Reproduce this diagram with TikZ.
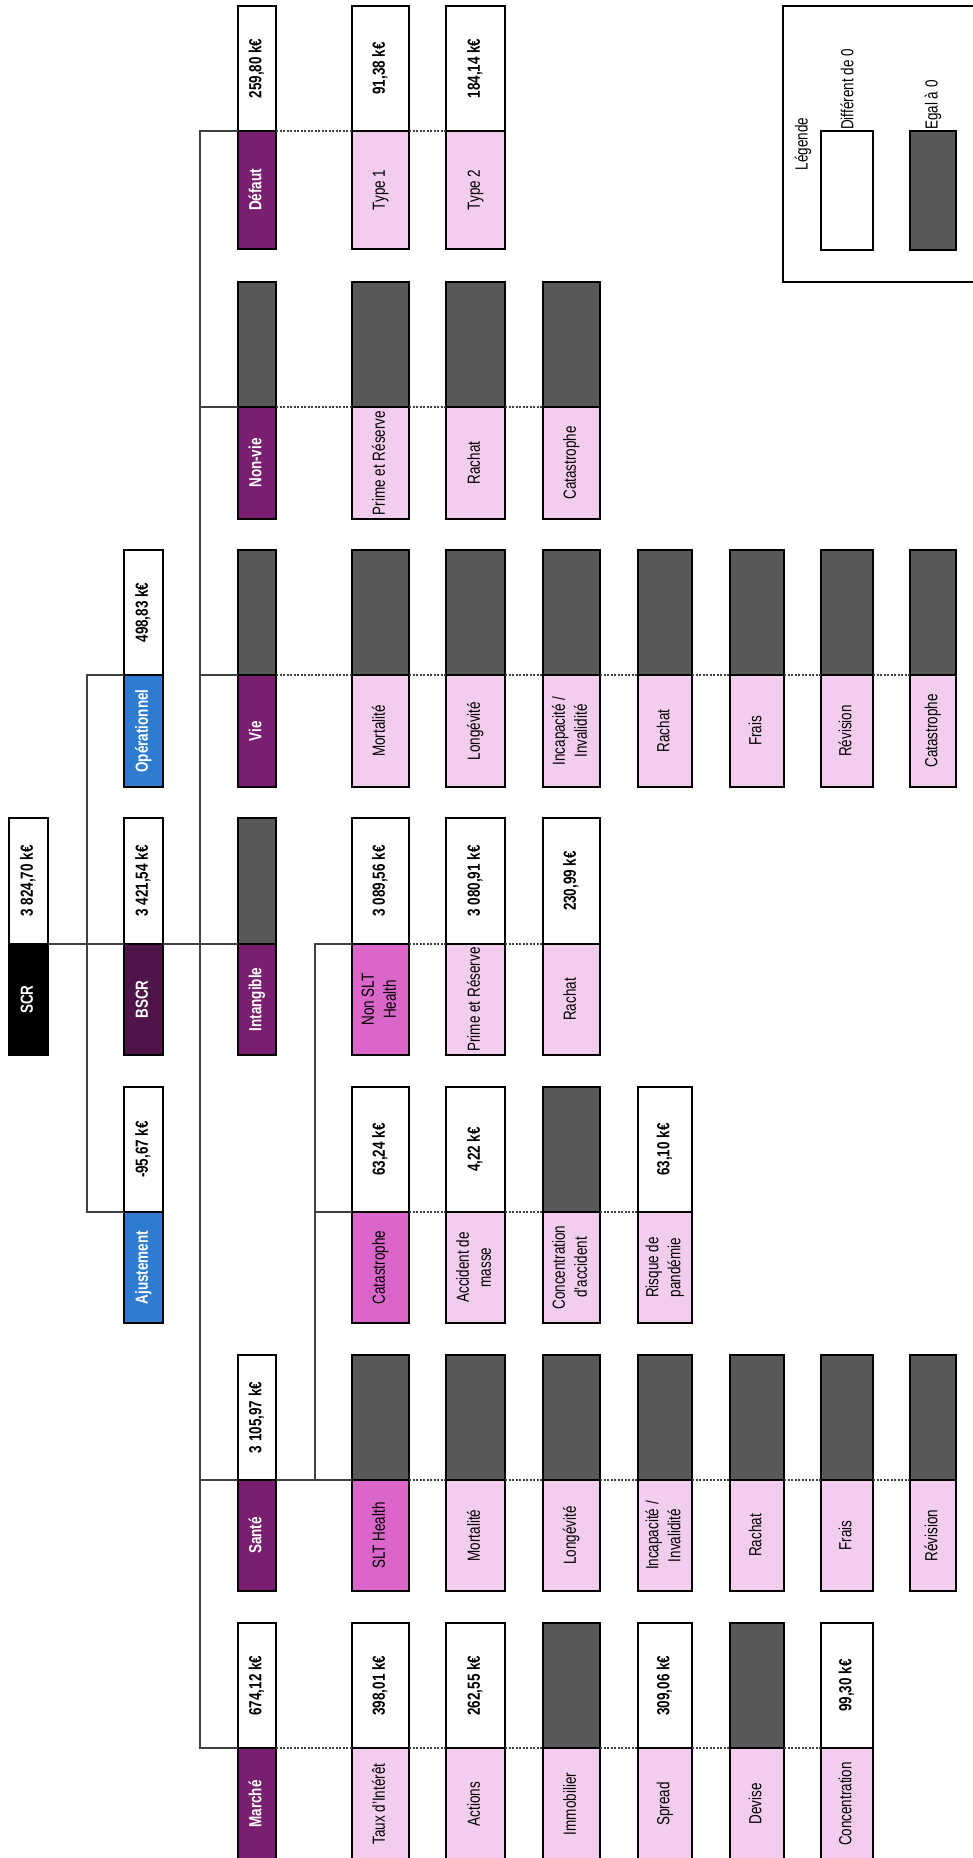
\documentclass[tikz,border=0pt]{standalone}
\usepackage{fontspec}
\setmainfont{Liberation Sans}[FakeStretch=0.77]
\usepackage{graphicx}
\definecolor{cPurple}{HTML}{7A1F6F}
\definecolor{cBscr}{HTML}{4F154A}
\definecolor{cBlue}{HTML}{2E7BD0}
\definecolor{cMag}{HTML}{D966C8}
\definecolor{cPink}{HTML}{F2CDEE}
\definecolor{cZero}{HTML}{595959}
\definecolor{cLine}{HTML}{404040}
\newcommand\rt[1]{\rotatebox{90}{\begin{tabular}{@{}c@{}}#1\end{tabular}}}
\newcommand\bx[7]{\node[#6,anchor=north west,minimum width={(#3-#2)*1pt},minimum height={(#5-#4)*1pt}] (#1) at (#2,#4) {\rt{#7}};}
\tikzset{
  boxbase/.style={draw=black,line width=2pt,inner sep=0pt,outer sep=0pt,font=\fontsize{17.5}{22}\selectfont},
  val/.style={boxbase,fill=white,text=black,font=\fontsize{17.5}{22}\selectfont\bfseries},
  zero/.style={boxbase,fill=cZero},
  lblw/.style={boxbase,fill=#1,text=white,font=\fontsize{17.5}{22}\selectfont\bfseries},
  lblp/.style={boxbase,fill=cPink,text=black},
  lblm/.style={boxbase,fill=cMag,text=black},
  conn/.style={draw=cLine,line width=1.2pt},
  dotc/.style={draw=cLine,line width=1.1pt,dash pattern=on 2pt off 1.5pt},
  legtext/.style={inner sep=1pt,font=\fontsize{17.5}{22}\selectfont,text=black}
}
\begin{document}
\begin{tikzpicture}[x=1pt,y=-1pt]
\useasboundingbox (0,0) rectangle (973,1858);
% ---------- legend
\draw[line width=2pt] (783,6) rectangle (978,282);
\bx{legW}{821}{873}{131}{250}{val}{}
\bx{legZ}{910}{956}{131}{250}{zero}{}
\node[legtext] (legT) at (803,144) {\rotatebox{90}{Légende}};
\node[legtext,anchor=south] (legWt) at (legW.north) {\rotatebox{90}{Différent de 0}};
\node[legtext,anchor=south] (legZt) at (legZ.north) {\rotatebox{90}{Egal à 0}};
% ---------- R1 : Défaut
\bx{defV}{238}{276}{6}{131}{val}{259,80 k€}
\bx{defL}{238}{276}{131}{249}{lblw=cPurple}{Défaut}
\bx{t1V}{352}{409}{6}{131}{val}{91,38 k€}
\bx{t1L}{352}{409}{131}{249}{lblp}{Type 1}
\bx{t2V}{446}{505}{6}{131}{val}{184,14 k€}
\bx{t2L}{446}{505}{131}{249}{lblp}{Type 2}
% ---------- R2 : Non-vie
\bx{nvV}{238}{276}{282}{407}{zero}{}
\bx{nvL}{238}{276}{407}{519}{lblw=cPurple}{Non-vie}
\bx{nvaV}{352}{409}{282}{407}{zero}{}
\bx{nvaL}{352}{409}{407}{519}{lblp}{Prime et Réserve}
\bx{nvbV}{446}{505}{282}{407}{zero}{}
\bx{nvbL}{446}{505}{407}{519}{lblp}{Rachat}
\bx{nvcV}{543}{600}{282}{407}{zero}{}
\bx{nvcL}{543}{600}{407}{519}{lblp}{Catastrophe}
% ---------- R3 : Opérationnel, Vie
\bx{opV}{124}{163}{550}{675}{val}{498,83 k€}
\bx{opL}{124}{163}{675}{787}{lblw=cBlue}{Opérationnel}
\bx{vieV}{238}{276}{550}{675}{zero}{}
\bx{vieL}{238}{276}{675}{787}{lblw=cPurple}{Vie}
\bx{vaV}{352}{409}{550}{675}{zero}{}
\bx{vaL}{352}{409}{675}{787}{lblp}{Mortalité}
\bx{vbV}{446}{505}{550}{675}{zero}{}
\bx{vbL}{446}{505}{675}{787}{lblp}{Longévité}
\bx{vcV}{543}{600}{550}{675}{zero}{}
\bx{vcL}{543}{600}{675}{787}{lblp}{Incapacité /\\Invalidité}
\bx{vdV}{638}{692}{550}{675}{zero}{}
\bx{vdL}{638}{692}{675}{787}{lblp}{Rachat}
\bx{veV}{730}{784}{550}{675}{zero}{}
\bx{veL}{730}{784}{675}{787}{lblp}{Frais}
\bx{vfV}{821}{873}{550}{675}{zero}{}
\bx{vfL}{821}{873}{675}{787}{lblp}{Révision}
\bx{vgV}{910}{956}{550}{675}{zero}{}
\bx{vgL}{910}{956}{675}{787}{lblp}{Catastrophe}
% ---------- R4 : SCR, BSCR, Intangible, Non SLT Health
\bx{scrV}{9}{48}{818}{944}{val}{3 824,70 k€}
\bx{scrL}{9}{48}{944}{1055}{lblw=black}{SCR}
\bx{bscrV}{124}{163}{818}{944}{val}{3 421,54 k€}
\bx{bscrL}{124}{163}{944}{1055}{lblw=cBscr}{BSCR}
\bx{intV}{238}{276}{818}{944}{zero}{}
\bx{intL}{238}{276}{944}{1055}{lblw=cPurple}{Intangible}
\bx{nsV}{352}{409}{818}{944}{val}{3 089,56 k€}
\bx{nsL}{352}{409}{944}{1055}{lblm}{Non SLT\\Health}
\bx{nsaV}{446}{505}{818}{944}{val}{3 080,91 k€}
\bx{nsaL}{446}{505}{944}{1055}{lblp}{Prime et Réserve}
\bx{nsbV}{543}{600}{818}{944}{val}{230,99 k€}
\bx{nsbL}{543}{600}{944}{1055}{lblp}{Rachat}
% ---------- R5 : Ajustement, Catastrophe
\bx{ajV}{124}{163}{1087}{1212}{val}{-95,67 k€}
\bx{ajL}{124}{163}{1212}{1323}{lblw=cBlue}{Ajustement}
\bx{catV}{352}{409}{1087}{1212}{val}{63,24 k€}
\bx{catL}{352}{409}{1212}{1323}{lblm}{Catastrophe}
\bx{caaV}{446}{505}{1087}{1212}{val}{4,22 k€}
\bx{caaL}{446}{505}{1212}{1323}{lblp}{Accident de\\masse}
\bx{cabV}{543}{600}{1087}{1212}{zero}{}
\bx{cabL}{543}{600}{1212}{1323}{lblp}{Concentration\\d'accident}
\bx{cacV}{638}{692}{1087}{1212}{val}{63,10 k€}
\bx{cacL}{638}{692}{1212}{1323}{lblp}{Risque de\\pandémie}
% ---------- R6 : Santé, SLT Health
\bx{saV}{238}{276}{1355}{1480}{val}{3 105,97 k€}
\bx{saL}{238}{276}{1480}{1591}{lblw=cPurple}{Santé}
\bx{slV}{352}{409}{1355}{1480}{zero}{}
\bx{slL}{352}{409}{1480}{1591}{lblm}{SLT Health}
\bx{saaV}{446}{505}{1355}{1480}{zero}{}
\bx{saaL}{446}{505}{1480}{1591}{lblp}{Mortalité}
\bx{sabV}{543}{600}{1355}{1480}{zero}{}
\bx{sabL}{543}{600}{1480}{1591}{lblp}{Longévité}
\bx{sacV}{638}{692}{1355}{1480}{zero}{}
\bx{sacL}{638}{692}{1480}{1591}{lblp}{Incapacité /\\Invalidité}
\bx{sadV}{730}{784}{1355}{1480}{zero}{}
\bx{sadL}{730}{784}{1480}{1591}{lblp}{Rachat}
\bx{saeV}{821}{873}{1355}{1480}{zero}{}
\bx{saeL}{821}{873}{1480}{1591}{lblp}{Frais}
\bx{safV}{910}{956}{1355}{1480}{zero}{}
\bx{safL}{910}{956}{1480}{1591}{lblp}{Révision}
% ---------- R7 : Marché
\bx{mV}{238}{276}{1623}{1748}{val}{674,12 k€}
\bx{mL}{238}{276}{1748}{1860}{lblw=cPurple}{Marché}
\bx{maV}{352}{409}{1623}{1748}{val}{398,01 k€}
\bx{maL}{352}{409}{1748}{1860}{lblp}{Taux d'Intérêt}
\bx{mbV}{446}{505}{1623}{1748}{val}{262,55 k€}
\bx{mbL}{446}{505}{1748}{1860}{lblp}{Actions}
\bx{mcV}{543}{600}{1623}{1748}{zero}{}
\bx{mcL}{543}{600}{1748}{1860}{lblp}{Immobilier}
\bx{mdV}{638}{692}{1623}{1748}{val}{309,06 k€}
\bx{mdL}{638}{692}{1748}{1860}{lblp}{Spread}
\bx{meV}{730}{784}{1623}{1748}{zero}{}
\bx{meL}{730}{784}{1748}{1860}{lblp}{Devise}
\bx{mfV}{821}{873}{1623}{1748}{val}{99,30 k€}
\bx{mfL}{821}{873}{1748}{1860}{lblp}{Concentration}
% ---------- tree connectors
\draw[conn] (scrL.north east) -- (bscrL.north west);
\draw[conn] (opL.north west) -- ([xshift=-37pt]opL.north west) -- ([xshift=-37pt]ajL.north west) -- (ajL.north west);
\draw[conn] (bscrL.north east) -- (intL.north west);
\draw[conn] (defL.north west) -- ([xshift=-38pt]defL.north west) -- ([xshift=-38pt]mL.north west) -- (mL.north west);
\draw[conn] (nvL.north west) -- ([xshift=-38pt]nvL.north west);
\draw[conn] (vieL.north west) -- ([xshift=-38pt]vieL.north west);
\draw[conn] (saL.north west) -- ([xshift=-38pt]saL.north west);
\draw[conn] (saL.north east) -- (slL.north west);
\draw[conn] (nsL.north west) -- ([xshift=-37pt]nsL.north west) -- ([xshift=-37pt]slL.north west);
\draw[conn] (catL.north west) -- ([xshift=-37pt]catL.north west);
% ---------- dotted sibling links
\foreach \a/\b in {defL/t1L,t1L/t2L,
  nvL/nvaL,nvaL/nvbL,nvbL/nvcL,
  vieL/vaL,vaL/vbL,vbL/vcL,vcL/vdL,vdL/veL,veL/vfL,vfL/vgL,
  nsL/nsaL,nsaL/nsbL,
  catL/caaL,caaL/cabL,cabL/cacL,
  slL/saaL,saaL/sabL,sabL/sacL,sacL/sadL,sadL/saeL,saeL/safL,
  mL/maL,maL/mbL,mbL/mcL,mcL/mdL,mdL/meL,meL/mfL}
  {\draw[dotc] (\a.north east) -- (\b.north west);}
\end{tikzpicture}
\end{document}
